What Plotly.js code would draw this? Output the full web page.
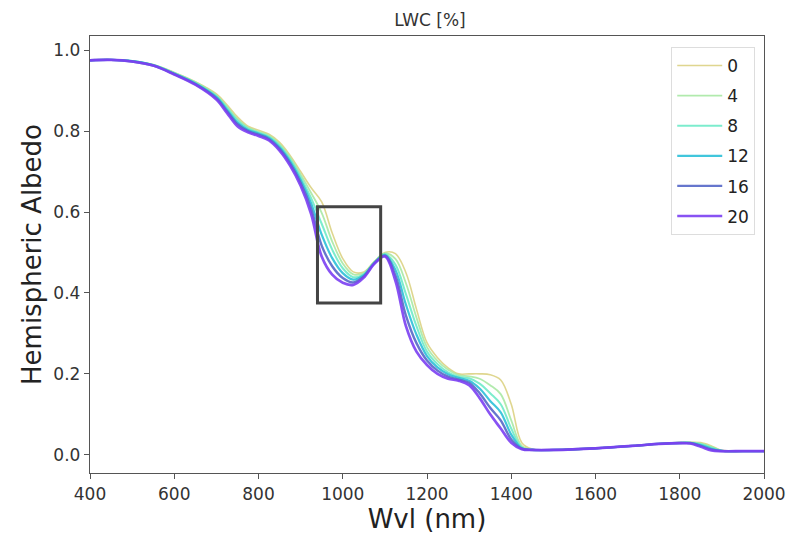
<!DOCTYPE html>
<html>
<head>
<meta charset="utf-8">
<script src="https://cdn.plot.ly/plotly-3.0.1.min.js"></script>
<style>body{margin:0;padding:0;background:#fff;} #chart{width:792px;height:537px;}</style>
</head>
<body>
<div id="chart"></div>
<script>
const wavelength = [400,450,500,550,600,650,700,725,750,775,800,825,850,875,900,925,950,975,1000,1025,1050,1075,1100,1125,1150,1175,1200,1225,1250,1275,1300,1325,1350,1375,1400,1425,1450,1500,1600,1700,1750,1800,1825,1850,1875,1900,1950,2000];

const lwcLabels = ["0","4","8","12","16","20"];

const albedo0  = [0.975,0.976,0.973,0.964,0.945,0.922,0.892,0.865,0.835,0.812,0.802,0.792,0.772,0.740,0.700,0.660,0.625,0.548,0.485,0.452,0.452,0.478,0.500,0.497,0.450,0.360,0.277,0.240,0.215,0.200,0.200,0.200,0.198,0.185,0.125,0.030,0.014,0.012,0.016,0.023,0.027,0.030,0.031,0.030,0.022,0.011,0.009,0.009];
const albedo4  = [0.975,0.976,0.973,0.964,0.944,0.921,0.889,0.861,0.830,0.809,0.799,0.789,0.768,0.735,0.693,0.647,0.598,0.527,0.473,0.446,0.449,0.477,0.498,0.484,0.424,0.339,0.266,0.232,0.210,0.197,0.194,0.188,0.172,0.150,0.085,0.022,0.013,0.012,0.016,0.023,0.027,0.030,0.030,0.028,0.020,0.010,0.009,0.009];
const albedo8  = [0.975,0.976,0.973,0.963,0.943,0.919,0.886,0.857,0.826,0.806,0.796,0.786,0.764,0.730,0.686,0.634,0.571,0.507,0.461,0.439,0.446,0.476,0.496,0.470,0.397,0.318,0.255,0.224,0.204,0.193,0.189,0.176,0.152,0.125,0.065,0.018,0.013,0.012,0.016,0.023,0.027,0.030,0.030,0.026,0.018,0.010,0.009,0.009];
const albedo12 = [0.975,0.976,0.973,0.963,0.942,0.918,0.884,0.853,0.821,0.803,0.794,0.783,0.760,0.725,0.679,0.621,0.544,0.486,0.449,0.433,0.444,0.474,0.494,0.457,0.371,0.297,0.244,0.216,0.199,0.190,0.183,0.164,0.133,0.105,0.050,0.016,0.012,0.012,0.016,0.023,0.027,0.029,0.029,0.024,0.015,0.010,0.009,0.009];
const albedo16 = [0.975,0.976,0.972,0.962,0.941,0.916,0.881,0.849,0.817,0.800,0.791,0.780,0.756,0.720,0.672,0.608,0.517,0.466,0.437,0.426,0.441,0.473,0.492,0.443,0.344,0.276,0.233,0.208,0.193,0.186,0.178,0.152,0.116,0.085,0.038,0.015,0.012,0.012,0.016,0.023,0.027,0.029,0.029,0.022,0.013,0.009,0.009,0.009];
const albedo20 = [0.975,0.976,0.972,0.962,0.940,0.915,0.878,0.845,0.812,0.797,0.788,0.777,0.752,0.715,0.665,0.595,0.490,0.445,0.425,0.420,0.438,0.472,0.490,0.430,0.318,0.255,0.222,0.200,0.188,0.183,0.172,0.140,0.100,0.065,0.030,0.014,0.012,0.012,0.016,0.023,0.027,0.029,0.028,0.020,0.011,0.009,0.009,0.009];

const seriesValues = [albedo0, albedo4, albedo8, albedo12, albedo16, albedo20];
const colors = ["#dcd283","#a8e8a4","#6eeac8","#2cc0d8","#5567c8","#7b3ff2"];
const widths = [1.6,1.8,2.0,2.2,2.4,2.7];

const traces = seriesValues.map((vals, i) => ({
  x: wavelength,
  y: vals,
  type: 'scatter',
  mode: 'lines',
  name: lwcLabels[i],
  legendgroup: 'g' + i,
  line: {color: colors[i], width: widths[i], shape: 'spline', smoothing: 1},
  opacity: 0.9
}));

const font = "DejaVu Sans, Liberation Sans, sans-serif";

const layout = {
  width: 792, height: 537,
  margin: {l: 90, r: 28, t: 36, b: 64},
  paper_bgcolor: '#fff', plot_bgcolor: '#fff',
  title: {text: 'LWC [%]', font: {family: font, size: 17, color: '#333'}, x: 0.543, xanchor: 'center', y: 0.962, yanchor: 'middle'},
  xaxis: {
    range: [400, 2000], tickvals: [400,600,800,1000,1200,1400,1600,1800,2000],
    ticks: 'outside', ticklen: 5, tickcolor: '#555', showline: true, linecolor: '#555', linewidth: 1.2, mirror: true,
    showgrid: false, zeroline: false,
    tickfont: {family: font, size: 17, color: '#333'},
    title: {text: 'Wvl (nm)', font: {family: font, size: 26, color: '#222'}, standoff: 2}
  },
  yaxis: {
    range: [-0.045, 1.035], tickvals: [0,0.2,0.4,0.6,0.8,1.0], ticktext: ['0.0','0.2','0.4','0.6','0.8','1.0'],
    ticks: 'outside', ticklen: 5, tickcolor: '#555', showline: true, linecolor: '#555', linewidth: 1.2, mirror: true,
    showgrid: false, zeroline: false,
    tickfont: {family: font, size: 17, color: '#333'},
    title: {text: 'Hemispheric Albedo', font: {family: font, size: 26, color: '#222'}, standoff: 4}
  },
  legend: {
    x: 0.987, y: 0.975, xanchor: 'right', yanchor: 'top',
    bgcolor: 'rgba(255,255,255,0.9)', bordercolor: '#ddd', borderwidth: 1,
    font: {family: font, size: 17, color: '#222'},
    itemwidth: 45, traceorder: 'grouped', tracegroupgap: 5
  },
  shapes: [{
    type: 'rect', xref: 'x', yref: 'y', x0: 940, x1: 1090, y0: 0.375, y1: 0.613,
    line: {color: '#444', width: 3}, fillcolor: 'rgba(0,0,0,0)'
  }],
  showlegend: true
};

Plotly.newPlot('chart', traces, layout, {displayModeBar: false, staticPlot: true});
</script>
</body>
</html>
